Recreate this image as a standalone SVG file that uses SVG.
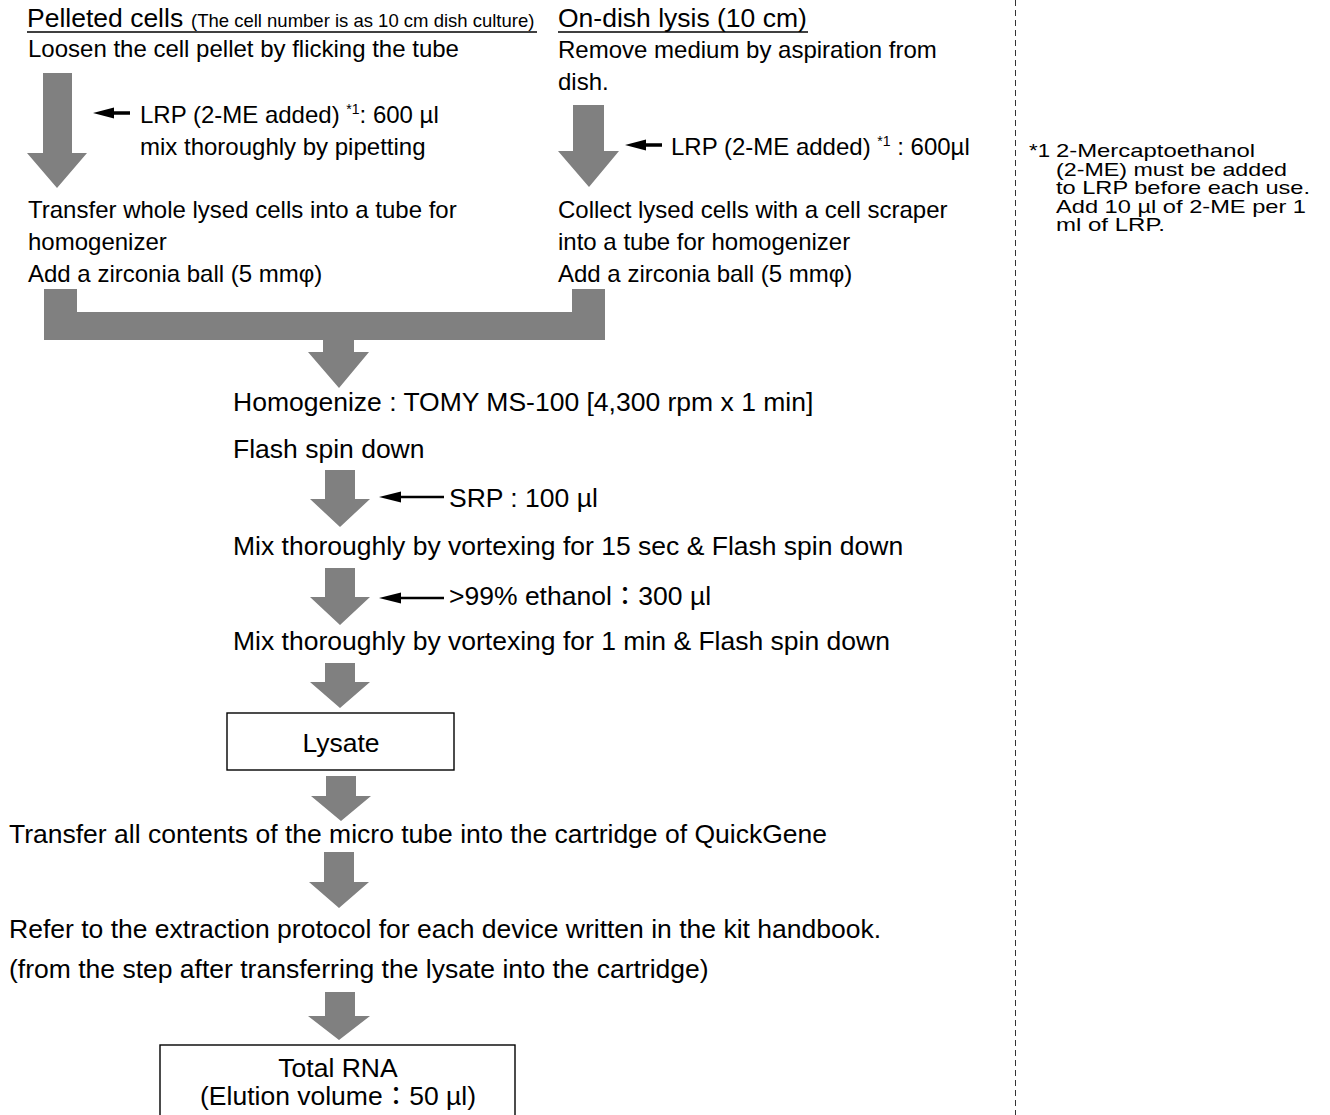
<svg xmlns="http://www.w3.org/2000/svg" width="1330" height="1115" viewBox="0 0 1330 1115">
<style>
text{font-family:"Liberation Sans",Arial,"Noto Sans CJK JP",sans-serif;fill:#000}
.up{font-size:24px}
.lo{font-size:26.5px}
.hd{font-size:26.5px}
.sm{font-size:18.5px}
.fn{font-size:18.5px}
.sup{font-size:14px}
.mid{text-anchor:middle}
.big{fill:#808080}
.blk{fill:#000}
.box{fill:#fff;stroke:#000;stroke-width:1.4}
.ul{stroke:#000;stroke-width:1.3}
</style>
<rect width="1330" height="1115" fill="#fff"/>

<g id="divider">
<line x1="1015.5" y1="0" x2="1015.5" y2="1115" stroke="#333" stroke-width="1" stroke-dasharray="6,4"/>
</g>

<g id="connectors">
<path class="big" d="M43,73 H72 V153 H87 L57,188 L27,153 H43 Z"/>
<path class="big" d="M573,105 H604 V151 H619 L589,187 L558,151 H573 Z"/>
<path class="big" d="M44,289 H77 V312 H572 V289 H605 V340 H354 V352 H369 L339,388 L308,352 H323 V340 H44 Z"/>
<path class="big" d="M325,470 H355 V499 H370 L340,527 L310,499 H325 Z"/>
<path class="big" d="M325,568 H355 V597 H370 L340,625 L310,597 H325 Z"/>
<path class="big" d="M325,663 H355 V682 H370 L340,708 L310,682 H325 Z"/>
<path class="big" d="M326,776 H356 V796 H371 L341,821 L311,796 H326 Z"/>
<path class="big" d="M324,852 H354 V882 H369 L339,908 L309,882 H324 Z"/>
<path class="big" d="M325,992 H355 V1016 H370 L339,1040 L308,1016 H325 Z"/>
<path class="blk" d="M93,113 L114,107.5 V111.2 H130 V114.8 H114 V118.5 Z"/>
<path class="blk" d="M625,145 L646,139.5 V143.2 H662 V146.8 H646 V150.5 Z"/>
<path class="blk" d="M379,497 L401,491.5 V495.8 H444 V498.2 H401 V502.5 Z"/>
<path class="blk" d="M379,598 L401,592.5 V596.8 H444 V599.2 H401 V603.5 Z"/>
</g>

<g id="pelleted">
<text x="27" y="27"><tspan class="hd">Pelleted cells</tspan><tspan class="sm" x="191">(The cell number is as 10 cm dish culture)</tspan></text>
<line class="ul" x1="27" y1="32" x2="537" y2="32"/>
<text class="up" x="28" y="57">Loosen the cell pellet by flicking the tube</text>
</g>

<g id="lrp-left">
<text class="up" x="140" y="123">LRP (2-ME added) <tspan class="sup" dy="-9">*1</tspan><tspan dy="9">: 600 µl</tspan></text>
<text class="up" x="140" y="155">mix thoroughly by pipetting</text>
</g>

<g id="transfer-left">
<text class="up" x="28" y="218">Transfer whole lysed cells into a tube for</text>
<text class="up" x="28" y="250">homogenizer</text>
<text class="up" x="28" y="282">Add a zirconia ball (5 mmφ)</text>
</g>

<g id="ondish">
<text class="hd" x="558" y="27">On-dish lysis (10 cm)</text>
<line class="ul" x1="558" y1="32" x2="808" y2="32"/>
<text class="up" x="558" y="58">Remove medium by aspiration from</text>
<text class="up" x="558" y="90">dish.</text>
</g>

<g id="lrp-right">
<text class="up" x="671" y="155">LRP (2-ME added) <tspan class="sup" dy="-9">*1</tspan><tspan dy="9"> : 600µl</tspan></text>
</g>

<g id="collect-right">
<text class="up" x="558" y="218">Collect lysed cells with a cell scraper</text>
<text class="up" x="558" y="250">into a tube for homogenizer</text>
<text class="up" x="558" y="282">Add a zirconia ball (5 mmφ)</text>
</g>

<g id="homogenize">
<text class="lo" x="233" y="411">Homogenize : TOMY MS-100 [4,300 rpm x 1 min]</text>
<text class="lo" x="233" y="458">Flash spin down</text>
</g>

<g id="srp">
<text class="lo" x="449" y="507">SRP : 100 µl</text>
</g>

<g id="mix15">
<text class="lo" x="233" y="555">Mix thoroughly by vortexing for 15 sec &amp; Flash spin down</text>
</g>

<g id="ethanol">
<text class="lo" x="449" y="605">&gt;99% ethanol：300 µl</text>
</g>

<g id="mix1">
<text class="lo" x="233" y="650">Mix thoroughly by vortexing for 1 min &amp; Flash spin down</text>
</g>

<g id="lysate">
<rect class="box" x="227" y="713" width="227" height="57"/>
<text class="lo mid" x="341" y="752">Lysate</text>
</g>

<g id="transfer-all">
<text class="lo" x="9" y="843">Transfer all contents of the micro tube into the cartridge of QuickGene</text>
</g>

<g id="refer">
<text class="lo" x="9" y="938">Refer to the extraction protocol for each device written in the kit handbook.</text>
<text class="lo" x="9" y="978">(from the step after transferring the lysate into the cartridge)</text>
</g>

<g id="total-rna">
<rect class="box" x="160" y="1045" width="355" height="80"/>
<text class="lo mid" x="338" y="1077">Total RNA</text>
<text class="lo mid" x="338" y="1105">(Elution volume：50 µl)</text>
</g>

<g id="footnote">
<text class="fn" x="1029" y="157" textLength="21" lengthAdjust="spacingAndGlyphs">*1</text>
<text class="fn" x="1056" y="157" textLength="199" lengthAdjust="spacingAndGlyphs">2-Mercaptoethanol</text>
<text class="fn" x="1056" y="175.5" textLength="231" lengthAdjust="spacingAndGlyphs">(2-ME) must be added</text>
<text class="fn" x="1056" y="194" textLength="254" lengthAdjust="spacingAndGlyphs">to LRP before each use.</text>
<text class="fn" x="1056" y="212.5" textLength="250" lengthAdjust="spacingAndGlyphs">Add 10 µl of 2-ME per 1</text>
<text class="fn" x="1056" y="231" textLength="109" lengthAdjust="spacingAndGlyphs">ml of LRP.</text>
</g>
</svg>
